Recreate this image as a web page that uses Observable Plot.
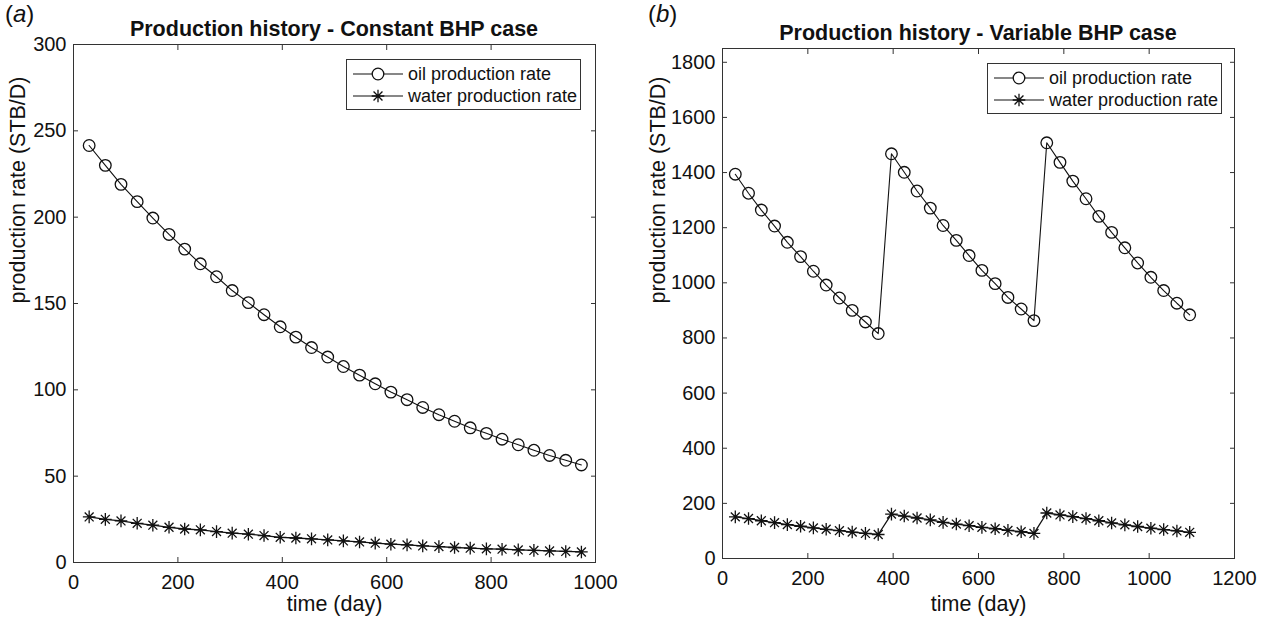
<!DOCTYPE html>
<html>
<head>
<meta charset="utf-8">
<script src="https://cdn.jsdelivr.net/npm/d3@7"></script>
<script src="https://cdn.jsdelivr.net/npm/@observablehq/plot@0.6"></script>
<style>
  body { margin: 0; background: #fff; }
  #wrap { position: relative; width: 1264px; height: 625px; overflow: hidden;
          font-family: "Liberation Sans", Arial, Helvetica, sans-serif; color: #111; }
  .panel { position: absolute; top: 0; width: 632px; height: 625px; }
  .tag { position: absolute; font-size: 24px; top: 0px; }
  .title { position: absolute; font-weight: bold; font-size: 21.5px; white-space: nowrap;
           transform: translate(-50%, -50%); }
  .legend { position: absolute; border: 1px solid #333; background: #fff; box-sizing: border-box; }
</style>
</head>
<body>
<div id="wrap"></div>
<script>
// ---------- data ----------
const panelTags = ["a", "b"];
const titles = ["Production history - Constant BHP case", "Production history - Variable BHP case"];
const seriesNames = ["oil production rate", "water production rate"];
const xLabel = "time (day)";
const yLabel = "production rate (STB/D)";

// (a) Constant BHP case
const daysA = [30, 61, 91, 122, 152, 183, 213, 243, 274, 304, 335, 365, 396, 426, 456, 487,
               517, 548, 578, 608, 639, 669, 700, 730, 760, 791, 821, 852, 882, 912, 943, 973];
const oilA = [241.5, 230, 219, 209, 199.5, 190, 181.5, 173, 165.5, 157.5, 150.5, 143.5, 136.5, 130.5, 124.5, 119,
              113.5, 108.5, 103.5, 98.7, 94.3, 89.8, 85.6, 81.8, 78, 74.8, 71.4, 68.2, 65, 62, 59.2, 56.5];
const waterA = [26.4, 25, 24.1, 22.7, 21.6, 20.4, 19.4, 18.9, 17.9, 17, 16.4, 15.6, 14.6, 14.2, 13.7, 13.1,
                12.5, 11.9, 11.2, 10.6, 10.2, 9.6, 9.2, 8.7, 8.3, 7.9, 7.7, 7.3, 7.0, 6.7, 6.4, 6.1];
const xTicksA = [0, 200, 400, 600, 800, 1000];
const yTicksA = [0, 50, 100, 150, 200, 250, 300];

// (b) Variable BHP case
const daysB = [30, 61, 91, 122, 152, 183, 213, 243, 274, 304, 335, 365, 396, 426, 456, 487, 517, 548,
               578, 608, 639, 669, 700, 730, 760, 791, 821, 852, 882, 912, 943, 973, 1004, 1034, 1065, 1095];
const oilB = [1394, 1325, 1264, 1206, 1147, 1095, 1042, 992, 945, 900, 858, 816,
              1468, 1401, 1333, 1271, 1208, 1154, 1099, 1045, 997, 947, 905, 863,
              1508, 1437, 1369, 1305, 1241, 1183, 1127, 1072, 1020, 972, 926, 884];
const waterB = [151, 145, 137, 130, 123, 117, 111, 106, 101, 96, 91, 87,
                161, 154, 147, 140, 131, 125, 119, 113, 108, 102, 97, 91,
                165, 158, 152, 145, 137, 129, 122, 116, 110, 105, 100, 95];
const xTicksB = [0, 200, 400, 600, 800, 1000, 1200];
const yTicksB = [0, 200, 400, 600, 800, 1000, 1200, 1400, 1600, 1800];

// ---------- helpers ----------
const INK = "#111";
const FONT = '"Liberation Sans", Arial, Helvetica, sans-serif';
// MATLAB-like asterisk: + and x overlaid
const asterisk = {
  draw(ctx, size) {
    const r = Math.sqrt(size / Math.PI), d = r * Math.SQRT1_2;
    ctx.moveTo(-r, 0); ctx.lineTo(r, 0);
    ctx.moveTo(0, -r); ctx.lineTo(0, r);
    ctx.moveTo(-d, -d); ctx.lineTo(d, d);
    ctx.moveTo(-d, d); ctx.lineTo(d, -d);
  }
};

function makeChart(cfg) {
  const data = cfg.days.map((d, i) => ({day: d, oil: cfg.oil[i], water: cfg.water[i]}));
  return Plot.plot({
    width: 632, height: 625,
    marginLeft: cfg.ml, marginRight: cfg.mr, marginTop: cfg.mt, marginBottom: cfg.mb,
    style: {fontFamily: FONT, fontSize: "20px", color: INK, background: "transparent", overflow: "visible"},
    x: {domain: cfg.xDomain},
    y: {domain: cfg.yDomain},
    marks: [
      Plot.frame({stroke: "#333", strokeWidth: 1}),
      Plot.axisX(cfg.xTicks, {anchor: "bottom", tickSize: -5, tickPadding: 17, tickFormat: d => String(d),
        label: null, stroke: "#333", fontSize: 20}),
      Plot.axisX(cfg.xTicks, {anchor: "top", tickSize: -5, tickFormat: () => "", label: null, stroke: "#333"}),
      Plot.axisY(cfg.yTicks, {anchor: "left", tickSize: -5, tickPadding: 12, tickFormat: d => String(d),
        label: null, stroke: "#333", fontSize: 20}),
      Plot.axisY(cfg.yTicks, {anchor: "right", tickSize: -5, tickFormat: () => "", label: null, stroke: "#333"}),
      Plot.text([xLabel], {text: d => d, frameAnchor: "bottom", dy: cfg.xdy, fontSize: 21.5, fill: INK}),
      Plot.text([yLabel], {text: d => d, frameAnchor: "left", dx: cfg.ydx, rotate: -90, fontSize: 21.5, fill: INK}),
      Plot.line(data, {x: "day", y: "oil", stroke: INK, strokeWidth: 1.1}),
      Plot.dot(data, {x: "day", y: "oil", r: 5.8, stroke: INK, fill: "none", strokeWidth: 1.3}),
      Plot.line(data, {x: "day", y: "water", stroke: INK, strokeWidth: 1.3}),
      Plot.dot(data, {x: "day", y: "water", symbol: asterisk, r: 6.3, stroke: INK, strokeWidth: 1.3})
    ]
  });
}

function makeLegend(left, top, width) {
  const h = 51;
  const div = document.createElement("div");
  div.className = "legend";
  Object.assign(div.style, {left: left + "px", top: top + "px", width: width + "px", height: h + "px"});
  const svg = d3.create("svg").attr("width", width - 2).attr("height", h - 2)
    .style("display", "block").style("font-family", FONT).style("font-size", "18px");
  const rows = [14, 36];
  rows.forEach((y, i) => {
    svg.append("line").attr("x1", 6).attr("x2", 56).attr("y1", y).attr("y2", y)
      .attr("stroke", INK).attr("stroke-width", 1.2);
    if (i === 0) {
      svg.append("circle").attr("cx", 31).attr("cy", y).attr("r", 5.8)
        .attr("fill", "white").attr("stroke", INK).attr("stroke-width", 1.3);
    } else {
      svg.append("path").attr("transform", `translate(31,${y})`)
        .attr("d", d3.symbol().type(asterisk).size(Math.PI * 6.3 * 6.3)())
        .attr("fill", "none").attr("stroke", INK).attr("stroke-width", 1.3);
    }
    svg.append("text").attr("x", 61).attr("y", y).attr("dy", "0.35em").attr("fill", INK)
      .text(seriesNames[i]);
  });
  div.appendChild(svg.node());
  return div;
}

const wrap = document.getElementById("wrap");
const cfgs = [
  {left: 0, days: daysA, oil: oilA, water: waterA, xTicks: xTicksA, yTicks: yTicksA,
   xDomain: [0, 1000], yDomain: [0, 300], ml: 73, mr: 37, mt: 44, mb: 63, xdy: 48, ydx: -55,
   tagX: 5, titleX: 334, titleY: 29, leg: [346, 59, 235]},
  {left: 632, days: daysB, oil: oilB, water: waterB, xTicks: xTicksB, yTicks: yTicksB,
   xDomain: [0, 1200], yDomain: [0, 1850], ml: 90, mr: 30, mt: 48, mb: 67, xdy: 52, ydx: -64,
   tagX: 648, titleX: 978, titleY: 33, leg: [987, 63, 235]}
];
cfgs.forEach((c, i) => {
  const p = document.createElement("div");
  p.className = "panel";
  p.style.left = c.left + "px";
  p.appendChild(makeChart(c));
  wrap.appendChild(p);
  const tag = document.createElement("div");
  tag.className = "tag";
  tag.style.left = c.tagX + "px";
  tag.innerHTML = "(<i>" + panelTags[i] + "</i>)";
  wrap.appendChild(tag);
  const t = document.createElement("div");
  t.className = "title";
  t.style.left = c.titleX + "px";
  t.style.top = c.titleY + "px";
  t.textContent = titles[i];
  wrap.appendChild(t);
  wrap.appendChild(makeLegend(...c.leg));
});
</script>
</body>
</html>
